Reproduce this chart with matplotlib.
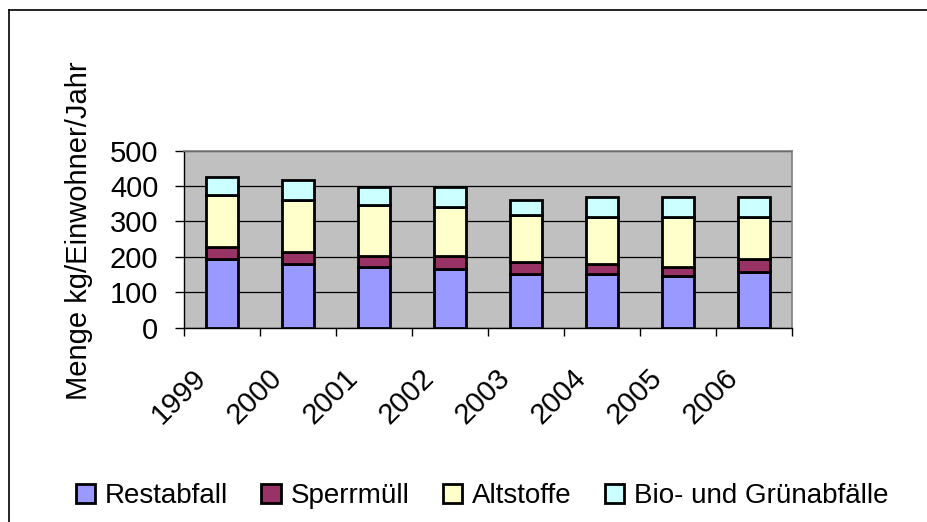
import numpy as np
import matplotlib
matplotlib.use("Agg")
import matplotlib.pyplot as plt
import matplotlib.transforms as mtransforms
from matplotlib.lines import Line2D

# Werte (kg pro Einwohner und Jahr)
jahre = ['1999', '2000', '2001', '2002', '2003', '2004', '2005', '2006']
restabfall = [194, 180, 172, 165, 152, 152, 146, 158]
sperrmuell = [35, 35, 29, 36, 34, 28, 26, 36]
altstoffe = [145, 146, 146, 139, 132, 132, 140, 118]
bio_gruen = [50, 55, 49, 56, 43, 56, 56, 56]

serien = ['Restabfall', 'Sperrmüll', 'Altstoffe', 'Bio- und Grünabfälle']
farben = ['#9999FF', '#993366', '#FFFFCC', '#CCFFFF']

plt.rcParams['font.family'] = ['Liberation Sans', 'DejaVu Sans']

fig = plt.figure(figsize=(9.27, 5.22), dpi=100)
ax = fig.add_axes([184 / 927, 1 - 327.7 / 522, (792 - 184) / 927, (327.7 - 150.5) / 522])
ax.set_facecolor('#C0C0C0')

x = np.arange(len(jahre))
unten = np.zeros(len(jahre))
for name, werte, farbe in zip(serien, [restabfall, sperrmuell, altstoffe, bio_gruen], farben):
    ax.bar(x, werte, width=0.42, bottom=unten, color=farbe, edgecolor='black',
           linewidth=2.0, label=name, zorder=3)
    unten = unten + np.array(werte)

ax.set_xlim(-0.5, len(jahre) - 0.5)
ax.set_ylim(0, 500)
ax.set_yticks([0, 100, 200, 300, 400, 500])
ax.yaxis.grid(True, color='black', linewidth=0.9, zorder=1)
ax.set_axisbelow(True)

for s in ['top', 'right']:
    ax.spines[s].set_color('#808080')
    ax.spines[s].set_linewidth(1.2)
for s in ['left', 'bottom']:
    ax.spines[s].set_color('black')
    ax.spines[s].set_linewidth(1.0)

ax.tick_params(axis='y', direction='out', length=6.5, width=1, labelsize=21, pad=12)
ax.set_xticks(x)
ax.set_xticklabels(jahre, rotation=45, ha='right', va='center', rotation_mode='anchor', fontsize=21)
ax.tick_params(axis='x', which='major', length=0, pad=33)
ax.set_xticks(np.arange(-0.5, len(jahre), 1), minor=True)
ax.tick_params(axis='x', which='minor', direction='out', length=6, width=1)

versatz = mtransforms.ScaledTranslation(-20 / 100, 0, fig.dpi_scale_trans)
for lbl in ax.get_xticklabels():
    lbl.set_transform(lbl.get_transform() + versatz)

ax.set_ylabel('Menge kg/Einwohner/Jahr', fontsize=21)
ax.yaxis.set_label_coords(-0.15, 0.55)

fig.legend(loc='center', bbox_to_anchor=(482 / 927, 1 - 496 / 522), ncol=4, frameon=False,
           fontsize=20, handlelength=0.7, handleheight=0.7, handletextpad=0.35,
           columnspacing=1.2, borderaxespad=0)

# Rahmen um das Diagramm (rechts und unten abgeschnitten)
fig.add_artist(Line2D([9 / 927, 9 / 927], [0, 1 - 10 / 522], transform=fig.transFigure, color='black', linewidth=1.2))
fig.add_artist(Line2D([9 / 927, 1], [1 - 10 / 522, 1 - 10 / 522], transform=fig.transFigure, color='black', linewidth=1.2))

fig.savefig('out.png', dpi=100)
